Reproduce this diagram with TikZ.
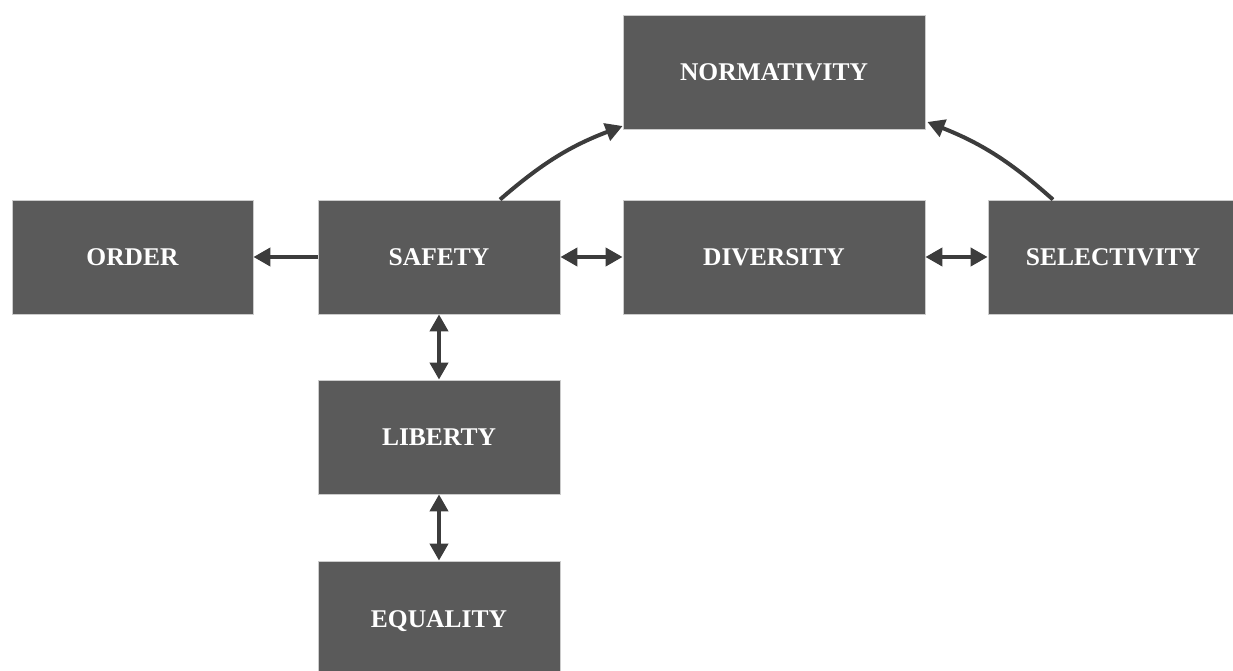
\documentclass[tikz,border=0pt]{standalone}
\usepackage{fontspec}
\setmainfont{Liberation Serif}
\usetikzlibrary{arrows.meta,positioning}
\definecolor{boxgray}{HTML}{5A5A5A}
\definecolor{linegray}{HTML}{3C3C3C}
\begin{document}
\begin{tikzpicture}[
          x=1pt, y=1pt,
          box/.style={draw=gray!40, line width=0.8pt, fill=boxgray, text=white,
            font=\bfseries\fontsize{25.5}{30}\selectfont,
            minimum width=242pt, minimum height=114pt, inner sep=0pt},
          wide/.style={minimum width=302pt},
          link/.style={draw=linegray, line width=4pt,
            -{Triangle[length=17pt, width=18pt]}},
          both/.style={link, {Triangle[length=17pt, width=18pt]}-{Triangle[length=17pt, width=18pt]}}
        ]
        \useasboundingbox (0,0) rectangle (1233,671);
        \begin{scope}
          \clip (0,0) rectangle (1233,671);
          \node[box, wide] (norm) at (774,599) {NORMATIVITY};
          \node[box, minimum width=241pt] (order) at (132.5,414) {ORDER};
          \node[box] (safety) at (439,414) {SAFETY};
          \node[box, wide] (div) at (774,414) {DIVERSITY};
          \node[box, minimum width=250pt] (sel) at (1113,414) {SELECTIVITY};
          \node[box] (lib) at (439,234) {LIBERTY};
          \node[box, minimum height=120pt] (eq) at (439,50) {EQUALITY};
        \end{scope}

        % links between the values
        \draw[link] (safety.west) -- (order.east);
        \draw[both] (safety.east) -- (div.west);
        \draw[both] (div.east) -- (sel.west);
        \draw[both] (safety.south) -- (lib.north);
        \draw[both] (lib.south) -- (eq.north);
        \draw[link, bend left=10] ([xshift=61pt]safety.north) to ([yshift=-54pt]norm.west);
        \draw[link, bend right=10] ([xshift=-60pt]sel.north) to ([xshift=2pt, yshift=-50pt]norm.east);
      \end{tikzpicture}
\end{document}
